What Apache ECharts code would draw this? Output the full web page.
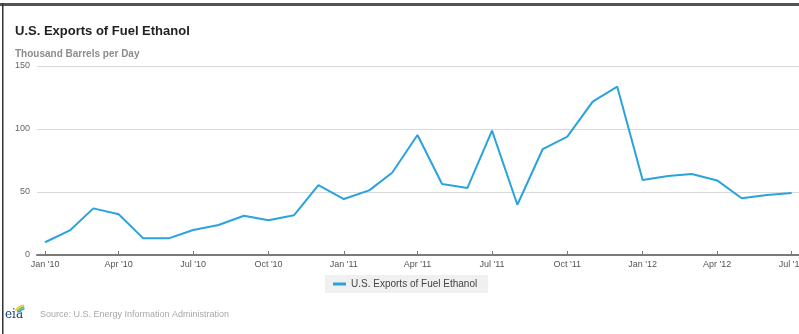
<!DOCTYPE html>
<html>
<head>
<meta charset="utf-8">
<script src="https://cdn.jsdelivr.net/npm/echarts@6/dist/echarts.min.js"></script>
<style>
html,body{margin:0;padding:0;background:#fff;}
#chart{width:799px;height:334px;}
</style>
</head>
<body>
<div id="chart"></div>
<script>
// ---- Data ----
const months = [
  '2010-01-01','2010-02-01','2010-03-01','2010-04-01','2010-05-01','2010-06-01',
  '2010-07-01','2010-08-01','2010-09-01','2010-10-01','2010-11-01','2010-12-01',
  '2011-01-01','2011-02-01','2011-03-01','2011-04-01','2011-05-01','2011-06-01',
  '2011-07-01','2011-08-01','2011-09-01','2011-10-01','2011-11-01','2011-12-01',
  '2012-01-01','2012-02-01','2012-03-01','2012-04-01','2012-05-01','2012-06-01',
  '2012-07-01'
];
const exportsValues = [
  10.1, 19.8, 37.0, 32.3, 13.2, 13.2,
  19.8, 23.8, 31.2, 27.5, 31.5, 55.5,
  44.4, 51.3, 65.3, 95.2, 56.3, 53.2,
  98.7, 39.9, 84.1, 93.9, 121.7, 133.6,
  59.5, 62.7, 64.3, 59.2, 45.0, 47.6,
  49.2
];
const tickDates = [
  '2010-01-01','2010-04-01','2010-07-01','2010-10-01',
  '2011-01-01','2011-04-01','2011-07-01','2011-10-01',
  '2012-01-01','2012-04-01','2012-07-01'
];
const yTicks = [0, 50, 100, 150];
const seriesName = 'U.S. Exports of Fuel Ethanol';
const titleText = 'U.S. Exports of Fuel Ethanol';
const unitText = 'Thousand Barrels per Day';
const sourceText = 'Source: U.S. Energy Information Administration';

const monthNames = ['Jan','Feb','Mar','Apr','May','Jun','Jul','Aug','Sep','Oct','Nov','Dec'];
const DAY = 86400000;
const toDay = s => Date.parse(s + 'T00:00:00Z') / DAY;

const chart = echarts.init(document.getElementById('chart'), null, {renderer: 'canvas'});
const option = {
  animation: false,
  backgroundColor: '#fff',
  title: [
    {text: titleText, left: 15, top: 25, padding: 0,
     textStyle: {fontFamily: 'Liberation Sans, Arial, sans-serif', fontSize: 13, fontWeight: 'bold', color: '#222'}},
    {text: unitText, left: 15, top: 49, padding: 0,
     textStyle: {fontFamily: 'Liberation Sans, Arial, sans-serif', fontSize: 10, fontWeight: 'bold', color: '#8c8c8c'}}
  ],
  legend: {
    data: [seriesName],
    left: 325, top: 275,
    padding: [4, 11, 4, 8],
    backgroundColor: '#f0f0f0',
    icon: 'rect', itemWidth: 13, itemHeight: 3, itemGap: 4,
    textStyle: {fontFamily: 'Liberation Sans, Arial, sans-serif', fontSize: 10, color: '#444'}
  },
  grid: {left: 37, right: 0, top: 66, bottom: 79, containLabel: false, outerBoundsMode: 'none'},
  xAxis: {
    type: 'value',
    min: toDay('2010-01-01') - 9.8,
    max: toDay('2012-07-01') + 9,
    axisLine: {onZero: false, lineStyle: {color: '#7a7a7a', width: 2}},
    axisTick: {show: true, inside: true, length: 4, lineStyle: {color: '#7a7a7a'},
               customValues: tickDates.map(toDay)},
    axisLabel: {
      customValues: tickDates.map(toDay),
      margin: 5,
      fontFamily: 'Liberation Sans, Arial, sans-serif', fontSize: 9, color: '#555',
      formatter: v => { const d = new Date(Math.round(v) * DAY); return monthNames[d.getUTCMonth()] + " '" + String(d.getUTCFullYear()).slice(2); }
    },
    splitLine: {show: false}
  },
  yAxis: {
    type: 'value', min: yTicks[0], max: yTicks[yTicks.length - 1], interval: 50,
    axisLine: {show: false}, axisTick: {show: false},
    axisLabel: {margin: 7, fontFamily: 'Liberation Sans, Arial, sans-serif', fontSize: 9, color: '#666'},
    splitLine: {lineStyle: {color: '#d9d9d9', width: 1}}
  },
  series: [{
    name: seriesName,
    type: 'line',
    data: months.map((m, i) => [toDay(m), exportsValues[i]]),
    showSymbol: false, symbol: 'none',
    lineStyle: {color: '#2aa3dd', width: 2},
    itemStyle: {color: '#2aa3dd'}
  }],
  graphic: [
    {type: 'rect', shape: {x: 0, y: 3, width: 799, height: 3}, style: {fill: '#555'}, silent: true},
    {type: 'rect', shape: {x: 2, y: 3, width: 1.5, height: 331}, style: {fill: '#333'}, silent: true},
    {type: 'text', left: 40, top: 310, style: {text: sourceText, fontFamily: 'Liberation Sans, Arial, sans-serif', fontSize: 9, fill: '#a8a8a8'}},
    {type: 'text', left: 5, top: 309, style: {text: 'eia', fontFamily: 'DejaVu Serif, serif', fontSize: 12, fill: '#1c3f73'}},
    {type: 'arc', shape: {cx: 26, cy: 318, r: 13, startAngle: Math.PI * 1.2, endAngle: Math.PI * 1.45}, style: {stroke: '#f2c12e', lineWidth: 1.5, fill: null}},
    {type: 'arc', shape: {cx: 26, cy: 318, r: 11.2, startAngle: Math.PI * 1.2, endAngle: Math.PI * 1.45}, style: {stroke: '#7cbf3a', lineWidth: 1.5, fill: null}},
    {type: 'arc', shape: {cx: 26, cy: 318, r: 9.4, startAngle: Math.PI * 1.2, endAngle: Math.PI * 1.45}, style: {stroke: '#2aa3dd', lineWidth: 1.5, fill: null}}
  ]
};
chart.setOption(option);
</script>
</body>
</html>
